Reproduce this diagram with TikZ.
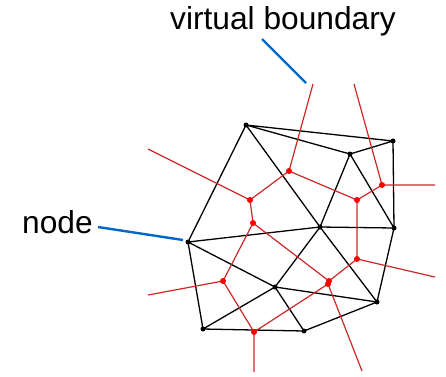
\documentclass[tikz,border=0pt]{standalone}
\usepackage{fontspec}
\setmainfont{Liberation Sans}
\begin{document}
\begin{tikzpicture}[x=1bp,y=-1bp,
  blk/.style={draw=black,line width=1.3bp},
  vor/.style={draw={rgb,255:red,205;green,40;blue,40},line width=1.2bp},
  lead/.style={draw={rgb,255:red,0;green,102;blue,204},line width=2.4bp},
  bdot/.style={circle,fill=black,inner sep=0pt,minimum size=5bp},
  rdot/.style={circle,fill=red,inner sep=0pt,minimum size=6bp},
  lbl/.style={inner sep=0pt,font=\fontsize{31.7bp}{36bp}\selectfont}]
\useasboundingbox (0,0) rectangle (446,376);
% Delaunay nodes
\coordinate (A) at (246,125);
\coordinate (B) at (393,141);
\coordinate (C) at (350,154);
\coordinate (D) at (320,227);
\coordinate (E) at (394,228);
\coordinate (F) at (188,242);
\coordinate (G) at (275,287);
\coordinate (H) at (377,302);
\coordinate (I) at (203,329);
\coordinate (J) at (304,331);
% Voronoi vertices
\coordinate (r1) at (289,171);
\coordinate (r2) at (250,200);
\coordinate (r3) at (253,223);
\coordinate (r4) at (357,200);
\coordinate (r5) at (382,185);
\coordinate (r6) at (223,281);
\coordinate (r7) at (254,332);
\coordinate (r8) at (357,259);
\coordinate (r9) at (329,281);
\coordinate (r10) at (328,284);
% far ends (virtual boundary)
\coordinate (e1) at (148,149);
\coordinate (e2) at (313,84);
\coordinate (e3) at (354,84);
\coordinate (e4) at (435,185);
\coordinate (e5) at (435,277);
\coordinate (e6) at (362,371);
\coordinate (e7) at (254,372);
\coordinate (e8) at (148,295);
% black edges
\draw[blk] (A)--(B) (A)--(C) (A)--(F) (A)--(D) (C)--(B) (C)--(D) (C)--(E)
  (B)--(E) (D)--(E) (F)--(D) (F)--(G) (F)--(I) (G)--(H) (I)--(G) (I)--(J)
  (G)--(D) (G)--(J) (D)--(H) (E)--(H) (H)--(J);
% voronoi edges
\draw[vor] (e1)--(r2) (r2)--(r1) (r2)--(r3) (e2)--(r1) (r1)--(r4) (r4)--(r5)
  (e3)--(r5) (r5)--(e4) (r4)--(r8) (r8)--(e5) (r8)--(r9) (r9)--(r10)
  (r10)--(e6) (r10)--(r7) (r3)--(r9) (r3)--(r6) (r6)--(e8) (r6)--(r7) (r7)--(e7);
% dots
\foreach \p in {A,B,C,D,E,F,G,H,I,J} \node[bdot] at (\p) {};
\foreach \p in {r1,r2,r3,r4,r5,r6,r7,r8,r9,r10} \node[rdot] at (\p) {};
% labels
\node[lbl,anchor=base west] (vb) at (170,29) {virtual boundary};
\node[lbl,anchor=base west] (nd) at (22,233) {node};
\coordinate (vbs) at (262,39);
\coordinate (vbt) at (306,83);
\coordinate (nds) at (98,227);
\coordinate (ndt) at (183,240);
\draw[lead] (vbs)--(vbt);
\draw[lead] (nds)--(ndt);
\end{tikzpicture}
\end{document}
